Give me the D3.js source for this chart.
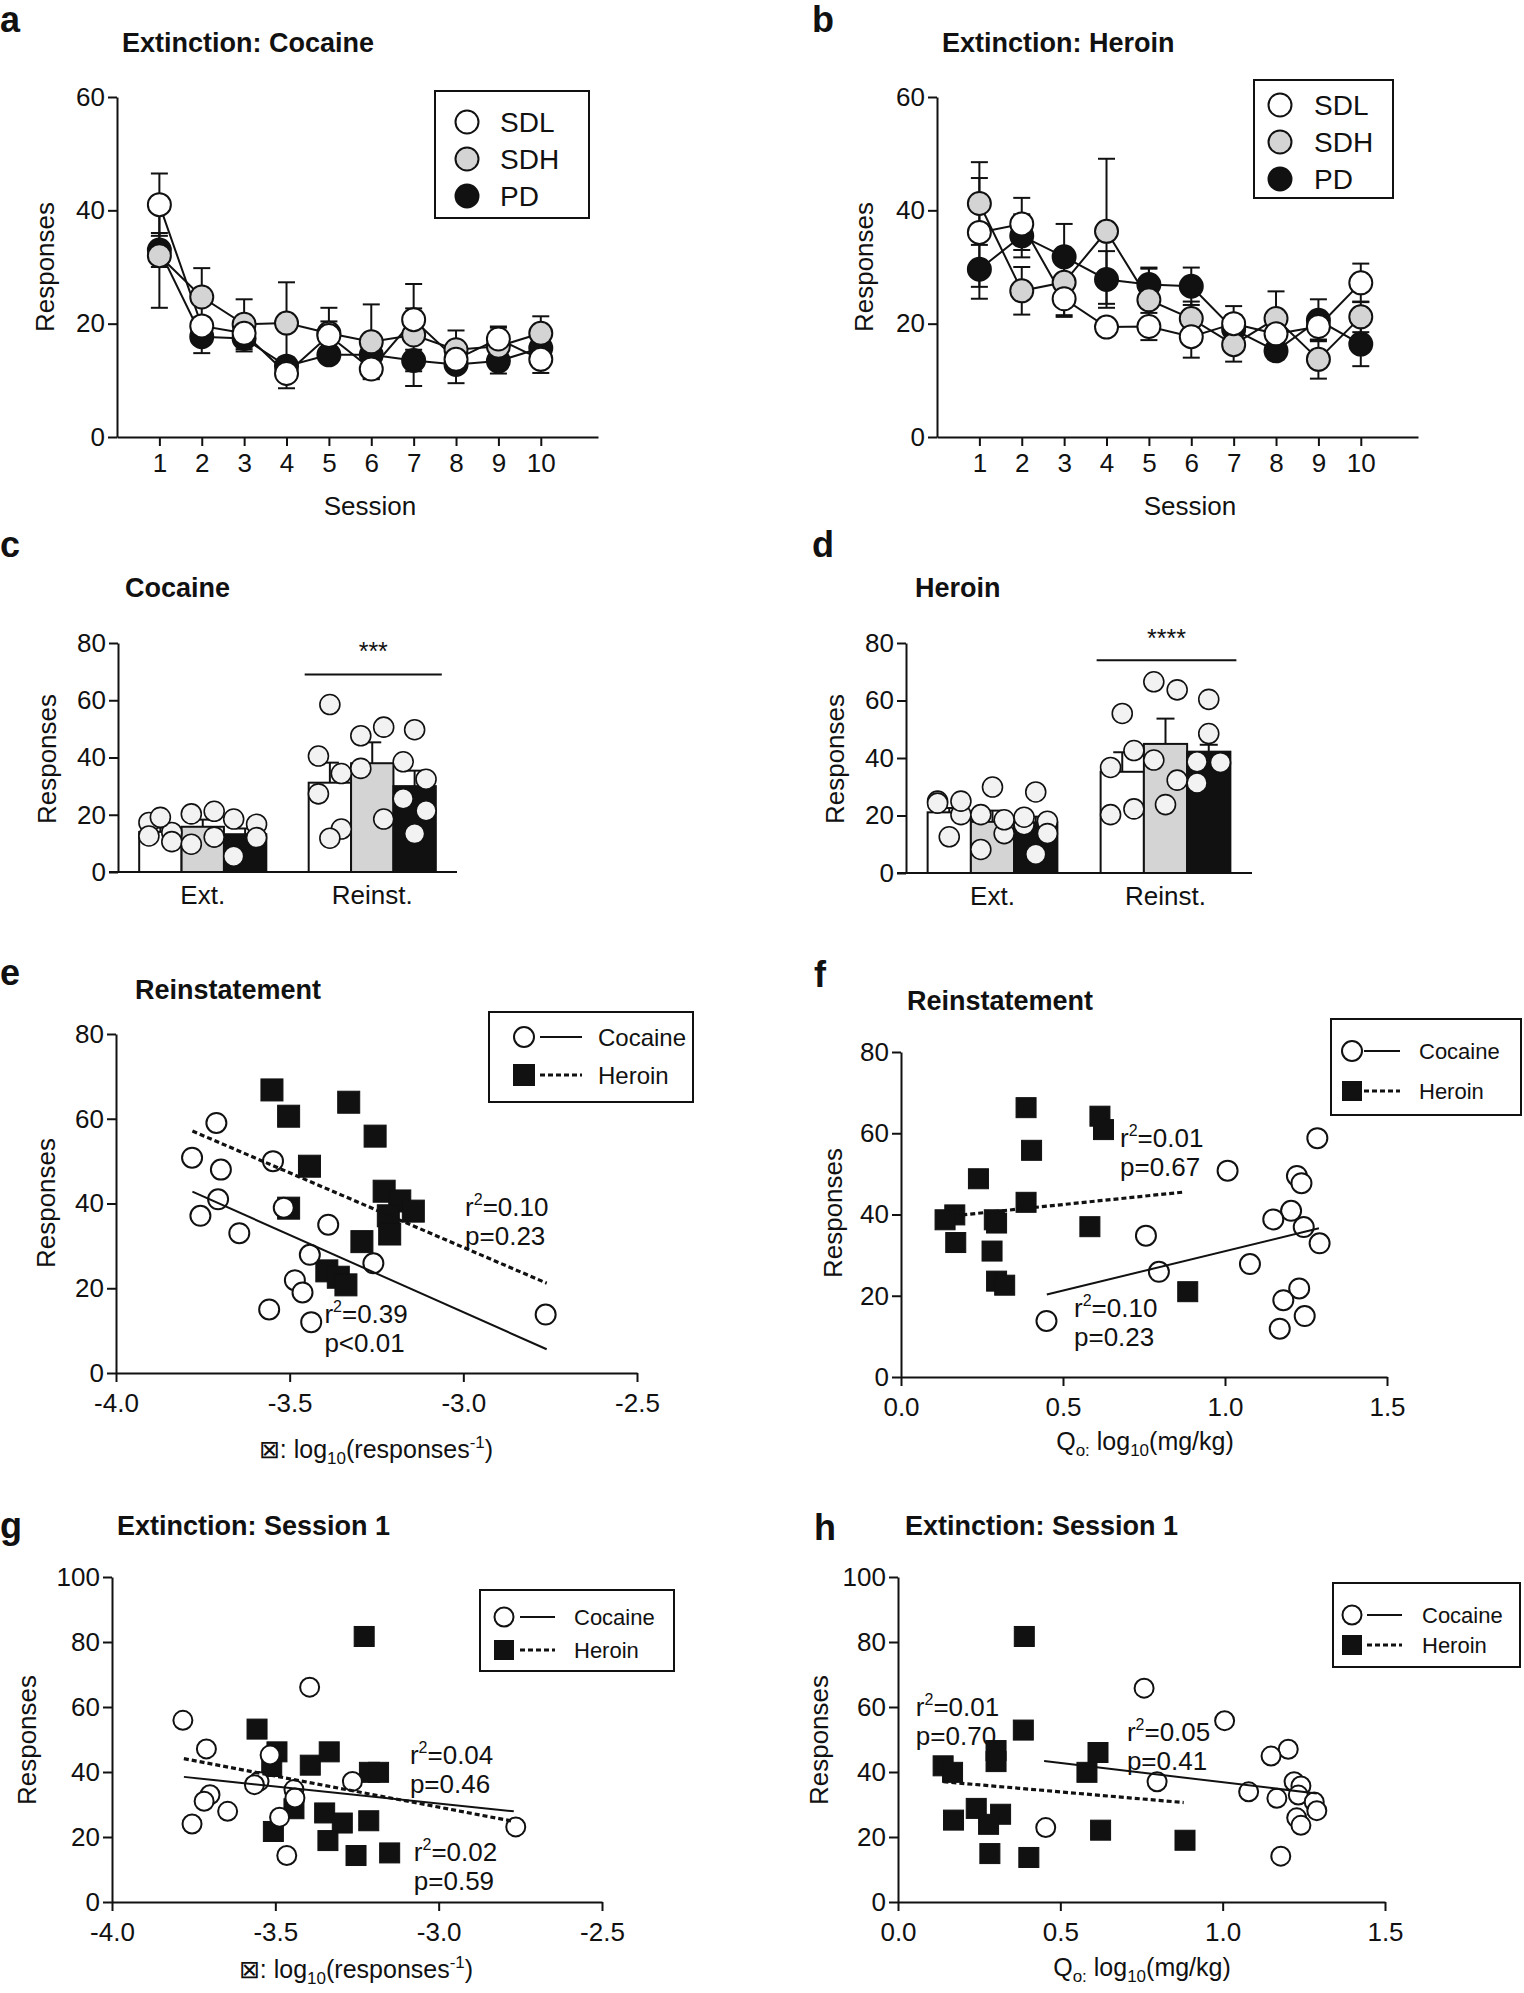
<!DOCTYPE html>
<html lang="en">
<head>
<meta charset="UTF-8">
<title>extinction and reinstatement</title>
<script src="https://d3js.org/d3.v7.min.js"></script>
<style>
  body { margin: 0; background: #fff; }
  svg text { font-family: "Liberation Sans", Arial, sans-serif; fill: #111; }
</style>
</head>
<body>
<svg id="fig" width="1524" height="1993"></svg>
<script>
// ---- a / b : extinction sessions (mean, sem)
var sessions = [1, 2, 3, 4, 5, 6, 7, 8, 9, 10];
var cocSDL = [41.0, 19.6, 18.3, 11.2, 17.9, 12.0, 20.7, 13.7, 17.3, 13.7];
var cocSDLerr = [5.5, 1.5, 1.5, 2.6, 2.5, 1.7, 2.0, 2.0, 2.0, 2.4];
var cocSDH = [32.0, 24.7, 19.9, 20.1, 18.3, 16.8, 18.0, 15.4, 16.0, 18.3];
var cocSDHerr = [9.2, 5.1, 4.4, 7.2, 4.5, 6.6, 9.0, 3.4, 3.5, 3.0];
var cocPD = [33.0, 17.7, 17.4, 12.5, 14.5, 14.5, 13.5, 12.8, 13.4, 15.7];
var cocPDerr = [3.0, 2.9, 2.3, 1.5, 1.0, 1.2, 1.9, 3.3, 2.2, 1.5];

var herSDL = [36.1, 37.6, 24.4, 19.4, 19.5, 17.7, 20.0, 18.2, 19.5, 27.2];
var herSDLerr = [9.6, 4.6, 3.2, 1.0, 2.4, 3.7, 3.1, 2.0, 2.3, 3.4];
var herSDH = [41.2, 25.8, 27.3, 36.3, 24.2, 20.9, 16.3, 20.9, 13.7, 21.2];
var herSDHerr = [7.3, 4.2, 5.8, 12.8, 5.5, 3.0, 3.0, 4.8, 3.4, 2.7];
var herPD = [29.6, 35.5, 31.8, 27.8, 26.9, 26.6, 19.0, 15.2, 20.6, 16.4];
var herPDerr = [5.2, 3.8, 5.8, 5.0, 3.0, 3.3, 2.5, 1.5, 3.7, 3.9];

// ---- c / d : bars (Ext., Reinst.) with individual rats
var groups = ["Ext.", "Reinst."];
var groupNames = ["SDL", "SDH", "PD"];
var cocBarSDL = [14.0, 31.2], cocSemSDL = [1.5, 7.0];
var cocBarSDH = [15.8, 38.0], cocSemSDH = [2.5, 7.3];
var cocBarPD = [13.2, 30.0], cocSemPD = [2.0, 5.4];
var cocExtSDL = [17.3, 13.8, 12.6, 10.6, 19.1];
var cocExtSDH = [20.3, 21.2, 9.7, 12.2];
var cocExtPD = [18.5, 16.7, 5.5, 12.0];
var cocReSDL = [40.5, 34.4, 27.3, 15.0, 58.5, 11.8];
var cocReSDH = [47.6, 50.6, 36.2, 18.5];
var cocRePD = [38.5, 32.4, 25.6, 21.4, 49.7, 13.4];

var herBarSDL = [21.1, 35.2], herSemSDL = [1.5, 6.8];
var herBarSDH = [17.8, 44.9], herSemSDH = [3.9, 8.8];
var herBarPD = [17.6, 42.2], herSemPD = [2.0, 2.4];
var herExtSDL = [25.0, 20.3, 24.3, 25.0, 12.6];
var herExtSDH = [20.3, 13.7, 8.2, 18.5, 29.9];
var herExtPD = [16.8, 18.0, 19.4, 13.7, 28.2, 6.5];
var herReSDL = [36.7, 42.6, 20.3, 22.3, 55.5];
var herReSDH = [66.5, 63.7, 39.3, 32.3, 23.8];
var herRePD = [38.7, 38.1, 31.3, 38.4, 60.4, 48.5];

// ---- e : reinstatement vs alpha
var eCocX = [-3.711, -3.781, -3.698, -3.548, -3.706, -3.757, -3.645, -3.517, -3.389, -3.442, -3.259, -3.485, -3.463, -3.559, -3.438, -2.763];
var eCocY = [59.0, 50.8, 48.0, 50.0, 41.0, 37.1, 33.0, 39.0, 35.0, 27.9, 25.9, 21.9, 19.0, 15.0, 12.0, 13.8];
var eHerX = [-3.551, -3.503, -3.330, -3.254, -3.443, -3.228, -3.183, -3.144, -3.503, -3.216, -3.212, -3.292, -3.393, -3.360, -3.338];
var eHerY = [66.8, 60.6, 63.9, 55.9, 48.8, 42.9, 40.6, 38.2, 38.9, 37.1, 32.8, 31.0, 24.1, 22.6, 20.8];
var eCocFit = [[-3.78, 42.8], [-2.76, 5.6]];
var eHerFit = [[-3.78, 57.1], [-2.76, 21.2]];

// ---- f : reinstatement vs Q0
var fCocX = [1.285, 1.008, 1.222, 1.236, 1.204, 1.149, 1.243, 0.756, 1.292, 1.077, 0.796, 1.229, 1.180, 1.246, 0.449, 1.169];
var fCocY = [58.8, 50.8, 49.5, 47.7, 40.9, 38.8, 36.9, 34.8, 32.9, 27.8, 25.9, 21.8, 18.9, 15.0, 13.8, 11.9];
var fHerX = [0.386, 0.614, 0.625, 0.403, 0.239, 0.386, 0.166, 0.136, 0.288, 0.295, 0.583, 0.169, 0.281, 0.295, 0.320, 0.885];
var fHerY = [66.3, 64.2, 60.9, 55.8, 48.8, 43.0, 39.9, 38.7, 38.7, 37.9, 37.0, 33.1, 31.0, 23.6, 22.6, 21.0];
var fCocFit = [[0.45, 20.3], [1.29, 36.6]];
var fHerFit = [[0.14, 39.5], [0.87, 45.5]];

// ---- g : extinction session 1 vs alpha
var gCocX = [-3.783, -3.711, -3.516, -3.550, -3.564, -3.443, -3.440, -3.264, -3.395, -3.700, -3.718, -3.646, -3.755, -3.487, -3.465, -2.764];
var gCocY = [55.9, 47.1, 45.2, 37.1, 36.1, 34.6, 32.0, 37.1, 66.1, 33.0, 31.0, 27.9, 24.0, 26.1, 14.3, 23.1];
var gHerX = [-3.556, -3.495, -3.511, -3.393, -3.335, -3.212, -3.184, -3.228, -3.443, -3.349, -3.295, -3.214, -3.506, -3.339, -3.253, -3.150];
var gHerY = [53.2, 46.2, 41.7, 42.1, 46.2, 39.9, 39.9, 81.7, 28.7, 27.4, 24.3, 25.0, 21.7, 18.9, 14.3, 15.1];
var gCocFit = [[-3.78, 38.5], [-2.77, 27.9]];
var gHerFit = [[-3.78, 44.1], [-2.77, 24.8]];

// ---- h : extinction session 1 vs Q0
var hCocX = [0.758, 1.006, 1.202, 1.149, 1.220, 1.241, 0.798, 1.080, 1.167, 1.233, 1.282, 1.290, 1.228, 1.241, 0.455, 1.179];
var hCocY = [65.8, 55.8, 47.0, 44.9, 37.0, 35.7, 37.0, 33.9, 31.9, 32.9, 30.8, 28.1, 25.9, 23.6, 22.9, 14.1];
var hHerX = [0.389, 0.386, 0.302, 0.302, 0.616, 0.139, 0.168, 0.582, 0.241, 0.316, 0.279, 0.171, 0.624, 0.283, 0.403, 0.884];
var hHerY = [81.7, 52.9, 46.6, 43.2, 46.0, 41.9, 39.9, 39.9, 28.8, 27.0, 23.9, 25.2, 22.1, 14.9, 13.7, 19.0];
var hCocFit = [[0.45, 43.4], [1.29, 33.4]];
var hHerFit = [[0.14, 37.0], [0.88, 30.6]];

var alphaTicks = [-4.0, -3.5, -3.0, -2.5];
var q0Ticks = [0.0, 0.5, 1.0, 1.5];

var svg = d3.select("#fig");
var fillFor = { SDL: "#ffffff", SDH: "#d4d4d4", PD: "#111111" };
var jitter = [-1, 1, -1, 1, 0, 0];

function styleAxis(sel, size) {
  sel.attr("font-family", null);
  sel.select(".domain").attr("stroke", "#111").attr("stroke-width", 2);
  sel.selectAll(".tick line").attr("stroke", "#111").attr("stroke-width", 2);
  sel.selectAll(".tick text").attr("font-size", size).attr("fill", "#111");
}

function label(txt, x, y, size, bold) {
  return svg.append("text").attr("x", x).attr("y", y)
    .attr("font-size", size).attr("font-weight", bold ? "bold" : null).text(txt);
}

function yTitle(x, y) {
  svg.append("text").attr("transform", "translate(" + x + "," + y + ") rotate(-90)")
    .attr("text-anchor", "middle").attr("dominant-baseline", "central")
    .attr("font-size", 26).text("Responses");
}

// ---------- line panels (a, b)
function linePanel(p) {
  label(p.letter, p.lx, p.ly, 36, true);
  label(p.title, p.tx, p.ty, 27, true);
  var x = d3.scaleLinear().domain([0, 11.35]).range([p.left, p.left + 481]);
  var y = d3.scaleLinear().domain([0, 60]).range([p.bottom, p.top]);
  var g = svg.append("g");
  g.append("g").attr("transform", "translate(0," + p.bottom + ")")
    .call(d3.axisBottom(x).tickValues(sessions).tickSize(9).tickSizeOuter(0).tickPadding(8))
    .call(styleAxis, 26);
  g.append("g").attr("transform", "translate(" + p.left + ",0)")
    .call(d3.axisLeft(y).tickValues([0, 20, 40, 60]).tickSize(9).tickSizeOuter(0).tickPadding(3))
    .call(styleAxis, 26);
  svg.append("text").attr("x", p.xtx).attr("y", p.xty).attr("text-anchor", "middle")
    .attr("dominant-baseline", "central").attr("font-size", 26).text("Session");
  yTitle(p.ytx, p.yty);

  var order = ["PD", "SDH", "SDL"];
  var line = d3.line().x(function (d) { return x(d.s); }).y(function (d) { return y(d.v); });
  order.forEach(function (k) {
    var pts = sessions.map(function (s, i) { return { s: s, v: p.series[k][0][i], e: p.series[k][1][i] }; });
    g.append("path").datum(pts).attr("d", line).attr("fill", "none").attr("stroke", "#111").attr("stroke-width", 2);
    var eb = g.append("g").attr("stroke", "#111").attr("stroke-width", 2);
    pts.forEach(function (d) {
      eb.append("line").attr("x1", x(d.s)).attr("x2", x(d.s)).attr("y1", y(d.v - d.e)).attr("y2", y(d.v + d.e));
      [d.v - d.e, d.v + d.e].forEach(function (v) {
        eb.append("line").attr("x1", x(d.s) - 8.5).attr("x2", x(d.s) + 8.5).attr("y1", y(v)).attr("y2", y(v));
      });
    });
  });
  order.forEach(function (k) {
    var pts = sessions.map(function (s, i) { return { s: s, v: p.series[k][0][i] }; });
    g.selectAll(null).data(pts).join("circle")
      .attr("cx", function (d) { return x(d.s); }).attr("cy", function (d) { return y(d.v); })
      .attr("r", 11.5).attr("fill", fillFor[k]).attr("stroke", "#111").attr("stroke-width", 2);
  });

  var L = p.legend;
  svg.append("rect").attr("x", L.x).attr("y", L.y).attr("width", L.w).attr("height", L.h)
    .attr("fill", "#fff").attr("stroke", "#111").attr("stroke-width", 2);
  groupNames.forEach(function (k, i) {
    svg.append("circle").attr("cx", L.mx).attr("cy", L.rows[i]).attr("r", 11.5)
      .attr("fill", fillFor[k]).attr("stroke", "#111").attr("stroke-width", 2);
    svg.append("text").attr("x", L.tx).attr("y", L.rows[i]).attr("dominant-baseline", "central")
      .attr("font-size", 28).text(k);
  });
}

linePanel({
  letter: "a", lx: 0, ly: 32, title: "Extinction: Cocaine", tx: 122, ty: 52,
  left: 117, top: 97, bottom: 437, xtx: 370, xty: 506, ytx: 45, yty: 267,
  series: { SDL: [cocSDL, cocSDLerr], SDH: [cocSDH, cocSDHerr], PD: [cocPD, cocPDerr] },
  legend: { x: 435, y: 91, w: 154, h: 127, rows: [122, 159, 196], mx: 467, tx: 500 }
});
linePanel({
  letter: "b", lx: 812, ly: 32, title: "Extinction: Heroin", tx: 942, ty: 52,
  left: 937, top: 97, bottom: 437, xtx: 1190, xty: 506, ytx: 864, yty: 267,
  series: { SDL: [herSDL, herSDLerr], SDH: [herSDH, herSDHerr], PD: [herPD, herPDerr] },
  legend: { x: 1254, y: 80, w: 139, h: 118, rows: [105, 142, 179], mx: 1280, tx: 1314 }
});

// ---------- bar panels (c, d)
function barPanel(p) {
  label(p.letter, p.lx, p.ly, 36, true);
  label(p.title, p.tx, p.ty, 27, true);
  var x0 = d3.scaleBand().domain(groups).range([p.left, p.right]).paddingInner(0.25).paddingOuter(0.125);
  var x1 = d3.scaleBand().domain(groupNames).range([0, x0.bandwidth()]);
  var y = d3.scaleLinear().domain([0, 80]).range([p.bottom, p.top]);
  var g = svg.append("g");

  groupNames.forEach(function (k) {
    groups.forEach(function (grp, gi) {
      var bx = x0(grp) + x1(k), bw = x1.bandwidth();
      var m = p.means[k][gi], s = p.sems[k][gi];
      g.append("line").attr("x1", bx + bw / 2).attr("x2", bx + bw / 2).attr("y1", y(m)).attr("y2", y(m + s))
        .attr("stroke", "#111").attr("stroke-width", 2);
      g.append("line").attr("x1", bx + bw / 2 - 9).attr("x2", bx + bw / 2 + 9).attr("y1", y(m + s)).attr("y2", y(m + s))
        .attr("stroke", "#111").attr("stroke-width", 2);
      g.append("rect").attr("x", bx).attr("y", y(m)).attr("width", bw).attr("height", y(0) - y(m))
        .attr("fill", fillFor[k]).attr("stroke", "#111").attr("stroke-width", 2);
    });
  });
  groupNames.forEach(function (k) {
    groups.forEach(function (grp, gi) {
      var cx = x0(grp) + x1(k) + x1.bandwidth() / 2;
      g.selectAll(null).data(p.dots[k][gi]).join("circle")
        .attr("cx", function (d, i) { return cx + jitter[i] * 0.27 * x1.bandwidth(); })
        .attr("cy", function (d) { return y(d); })
        .attr("r", 10).attr("fill", "#f2f2f2").attr("stroke", "#111").attr("stroke-width", 1.6);
    });
  });

  g.append("g").attr("transform", "translate(" + p.left + ",0)")
    .call(d3.axisLeft(y).tickValues([0, 20, 40, 60, 80]).tickSize(9).tickSizeOuter(0).tickPadding(3))
    .call(styleAxis, 26);
  var xa = g.append("g").attr("transform", "translate(0," + p.bottom + ")")
    .call(d3.axisBottom(x0).tickSize(0).tickSizeOuter(0).tickPadding(14))
    .call(styleAxis, 26);
  xa.select(".domain").remove();
  g.append("line").attr("x1", p.left - 9).attr("x2", p.right).attr("y1", p.bottom).attr("y2", p.bottom)
    .attr("stroke", "#111").attr("stroke-width", 2);

  var rx = x0("Reinst.");
  g.append("line").attr("x1", rx - 4).attr("x2", rx + x0.bandwidth() + 6)
    .attr("y1", y(p.sigY)).attr("y2", y(p.sigY)).attr("stroke", "#111").attr("stroke-width", 2);
  g.append("text").attr("x", rx + x0.bandwidth() / 2 + 1).attr("y", y(p.sigY) - p.starGap)
    .attr("text-anchor", "middle").attr("font-size", 25).text(p.stars);
  yTitle(p.ytx, p.yty);
}

barPanel({
  letter: "c", lx: 0, ly: 557, title: "Cocaine", tx: 125, ty: 597,
  left: 118, right: 457, top: 643, bottom: 872, ytx: 47, yty: 759,
  means: { SDL: cocBarSDL, SDH: cocBarSDH, PD: cocBarPD },
  sems: { SDL: cocSemSDL, SDH: cocSemSDH, PD: cocSemPD },
  dots: { SDL: [cocExtSDL, cocReSDL], SDH: [cocExtSDH, cocReSDH], PD: [cocExtPD, cocRePD] },
  sigY: 69, starGap: 14, stars: "***"
});
barPanel({
  letter: "d", lx: 812, ly: 557, title: "Heroin", tx: 915, ty: 597,
  left: 906, right: 1252, top: 643, bottom: 873, ytx: 835, yty: 759,
  means: { SDL: herBarSDL, SDH: herBarSDH, PD: herBarPD },
  sems: { SDL: herSemSDL, SDH: herSemSDH, PD: herSemPD },
  dots: { SDL: [herExtSDL, herReSDL], SDH: [herExtSDH, herReSDH], PD: [herExtPD, herRePD] },
  sigY: 74, starGap: 13, stars: "****"
});

// ---------- scatter panels (e - h)
function statText(g, x, y, r2, pv) {
  var t = g.append("text").attr("x", x).attr("y", y).attr("font-size", 26);
  t.append("tspan").text("r");
  t.append("tspan").attr("dy", -11).attr("font-size", 16).text("2");
  t.append("tspan").attr("dy", 11).text("=" + r2);
  g.append("text").attr("x", x).attr("y", y + 29).attr("font-size", 26).text(pv);
}

function xTitle(kind, x, y) {
  var t = svg.append("text").attr("x", x).attr("y", y).attr("text-anchor", "middle")
    .attr("font-size", 25);
  if (kind === "alpha") {
    t.append("tspan").text("\u22A0: log");
    t.append("tspan").attr("dy", 6).attr("font-size", 17).text("10");
    t.append("tspan").attr("dy", -6).text("(responses");
    t.append("tspan").attr("dy", -10).attr("font-size", 17).text("-1");
    t.append("tspan").attr("dy", 10).text(")");
  } else {
    t.append("tspan").text("Q");
    t.append("tspan").attr("dy", 6).attr("font-size", 17).text("o:");
    t.append("tspan").attr("dy", -6).text(" log");
    t.append("tspan").attr("dy", 6).attr("font-size", 17).text("10");
    t.append("tspan").attr("dy", -6).text("(mg/kg)");
  }
}

function scatterPanel(p) {
  label(p.letter, p.lx, p.ly, 36, true);
  label(p.title, p.tx, p.ty, 27, true);
  var x = d3.scaleLinear().domain(p.xDomain).range([p.left, p.right]);
  var y = d3.scaleLinear().domain([0, p.yMax]).range([p.bottom, p.top]);
  var g = svg.append("g");
  g.append("g").attr("transform", "translate(0," + p.bottom + ")")
    .call(d3.axisBottom(x).tickValues(p.xTicks).tickFormat(function (d) { return d.toFixed(1); })
      .tickSize(9).tickSizeOuter(0).tickPadding(12))
    .call(styleAxis, 26);
  g.append("g").attr("transform", "translate(" + p.left + ",0)")
    .call(d3.axisLeft(y).tickValues(d3.range(0, p.yMax + 1, 20)).tickSize(9).tickSizeOuter(0).tickPadding(3))
    .call(styleAxis, 26);

  var sq = p.sq;
  g.selectAll(null).data(d3.zip(p.herX, p.herY)).join("rect")
    .attr("x", function (d) { return x(d[0]) - sq / 2; }).attr("y", function (d) { return y(d[1]) - sq / 2; })
    .attr("width", sq).attr("height", sq).attr("fill", "#111").attr("stroke", "#111").attr("stroke-width", 1);
  g.selectAll(null).data(d3.zip(p.cocX, p.cocY)).join("circle")
    .attr("cx", function (d) { return x(d[0]); }).attr("cy", function (d) { return y(d[1]); })
    .attr("r", p.cr).attr("fill", "#fff").attr("stroke", "#111").attr("stroke-width", 2);

  var line = d3.line().x(function (d) { return x(d[0]); }).y(function (d) { return y(d[1]); });
  g.append("path").datum(p.cocFit).attr("d", line).attr("fill", "none").attr("stroke", "#111").attr("stroke-width", 2);
  g.append("path").datum(p.herFit).attr("d", line).attr("fill", "none").attr("stroke", "#111")
    .attr("stroke-width", 3.2).attr("stroke-dasharray", "5,3");

  p.stats.forEach(function (s) { statText(g, x(s[0]), y(s[1]), s[2], s[3]); });

  var L = p.legend;
  svg.append("rect").attr("x", L.x).attr("y", L.y).attr("width", L.w).attr("height", L.h)
    .attr("fill", "none").attr("stroke", "#111").attr("stroke-width", 2);
  svg.append("circle").attr("cx", L.mx).attr("cy", L.rows[0]).attr("r", p.cr)
    .attr("fill", "#fff").attr("stroke", "#111").attr("stroke-width", 2);
  svg.append("line").attr("x1", L.l1).attr("x2", L.l2).attr("y1", L.rows[0]).attr("y2", L.rows[0])
    .attr("stroke", "#111").attr("stroke-width", 2);
  svg.append("rect").attr("x", L.mx - sq / 2).attr("y", L.rows[1] - sq / 2).attr("width", sq).attr("height", sq)
    .attr("fill", "#111");
  svg.append("line").attr("x1", L.l1).attr("x2", L.l2).attr("y1", L.rows[1]).attr("y2", L.rows[1])
    .attr("stroke", "#111").attr("stroke-width", 3.2).attr("stroke-dasharray", "5,3");
  ["Cocaine", "Heroin"].forEach(function (nm, i) {
    svg.append("text").attr("x", L.tx).attr("y", L.rows[i]).attr("dominant-baseline", "central")
      .attr("font-size", L.fs).text(nm);
  });

  xTitle(p.xKind, p.xtx, p.xty);
  yTitle(p.ytx, p.yty);
}

scatterPanel({
  letter: "e", lx: 0, ly: 985, title: "Reinstatement", tx: 135, ty: 999,
  xDomain: [-4, -2.5], xTicks: alphaTicks, yMax: 80,
  left: 116, right: 637, top: 1034, bottom: 1373, cr: 10, sq: 22,
  cocX: eCocX, cocY: eCocY, herX: eHerX, herY: eHerY, cocFit: eCocFit, herFit: eHerFit,
  stats: [[-2.995, 37.0, "0.10", "p=0.23"], [-3.40, 11.8, "0.39", "p<0.01"]],
  legend: { x: 489, y: 1012, w: 204, h: 90, rows: [1037, 1075], mx: 524, l1: 540, l2: 582, tx: 598, fs: 24 },
  xKind: "alpha", xtx: 376, xty: 1458, ytx: 46, yty: 1203
});
scatterPanel({
  letter: "f", lx: 814, ly: 987, title: "Reinstatement", tx: 907, ty: 1010,
  xDomain: [0, 1.5], xTicks: q0Ticks, yMax: 80,
  left: 901, right: 1387, top: 1052, bottom: 1377, cr: 10, sq: 20,
  cocX: fCocX, cocY: fCocY, herX: fHerX, herY: fHerY, cocFit: fCocFit, herFit: fHerFit,
  stats: [[0.676, 56.6, "0.01", "p=0.67"], [0.534, 14.8, "0.10", "p=0.23"]],
  legend: { x: 1331, y: 1019, w: 190, h: 96, rows: [1051, 1091], mx: 1352, l1: 1364, l2: 1400, tx: 1419, fs: 22 },
  xKind: "q0", xtx: 1145, xty: 1450, ytx: 833, yty: 1213
});
scatterPanel({
  letter: "g", lx: 0, ly: 1538, title: "Extinction: Session 1", tx: 117, ty: 1535,
  xDomain: [-4, -2.5], xTicks: alphaTicks, yMax: 100,
  left: 112, right: 602, top: 1577, bottom: 1902, cr: 9.5, sq: 20,
  cocX: gCocX, cocY: gCocY, herX: gHerX, herY: gHerY, cocFit: gCocFit, herFit: gHerFit,
  stats: [[-3.088, 42.5, "0.04", "p=0.46"], [-3.076, 12.6, "0.02", "p=0.59"]],
  legend: { x: 480, y: 1590, w: 194, h: 81, rows: [1617, 1650], mx: 504, l1: 520, l2: 555, tx: 574, fs: 22 },
  xKind: "alpha", xtx: 356, xty: 1978, ytx: 27, yty: 1740
});
scatterPanel({
  letter: "h", lx: 814, ly: 1540, title: "Extinction: Session 1", tx: 905, ty: 1535,
  xDomain: [0, 1.5], xTicks: q0Ticks, yMax: 100,
  left: 898, right: 1385, top: 1577, bottom: 1902, cr: 9.5, sq: 20,
  cocX: hCocX, cocY: hCocY, herX: hHerX, herY: hHerY, cocFit: hCocFit, herFit: hHerFit,
  stats: [[0.055, 57.2, "0.01", "p=0.70"], [0.705, 49.5, "0.05", "p=0.41"]],
  legend: { x: 1333, y: 1583, w: 187, h: 84, rows: [1615, 1645], mx: 1352, l1: 1367, l2: 1402, tx: 1422, fs: 22 },
  xKind: "q0", xtx: 1142, xty: 1976, ytx: 819, yty: 1740
});
</script>
</body>
</html>
